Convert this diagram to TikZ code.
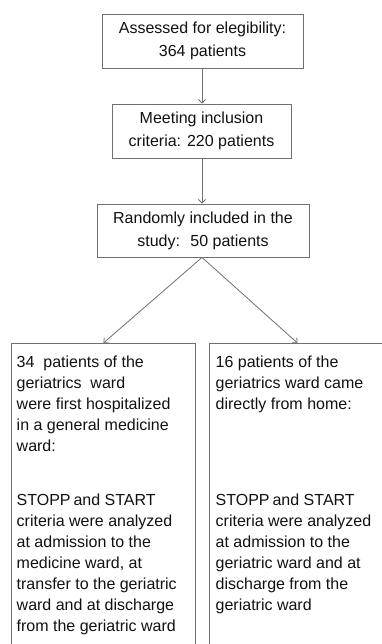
\documentclass[tikz,border=0pt]{standalone}
\usepackage{fontspec}
\setmainfont{Liberation Sans}
\usetikzlibrary{arrows.meta}
\definecolor{boxline}{HTML}{707070}
\definecolor{arrowline}{HTML}{707070}
\definecolor{txt}{HTML}{111111}
\tikzset{
  topbox/.style={draw=boxline, line width=0.9pt, rectangle, align=center, text=txt,
    font=\fontsize{16}{23}\selectfont, inner sep=0pt},
  bottombox/.style={draw=boxline, line width=0.9pt, rectangle, anchor=north west, inner sep=0pt},
  boxtext/.style={anchor=base west, inner sep=0pt, text=txt,
    font=\fontsize{16}{21}\selectfont},
  flow/.style={draw=arrowline, line width=0.8pt, -{Straight Barb[length=3.5pt,width=7pt]}}
}
\begin{document}
\begin{tikzpicture}[x=1pt,y=-1pt]
\clip (0,0) rectangle (382,644);
\node[topbox, minimum width=201pt, minimum height=54pt] (b1) at (202.5,41) {Assessed for elegibility:\\364 patients};
\node[topbox, minimum width=179pt, minimum height=54pt] (b2) at (201.5,131) {Meeting inclusion\\criteria: 220 patients};
\node[topbox, minimum width=212pt, minimum height=53pt] (b3) at (203,230.5) {Randomly included in the\\study:~ 50 patients};
\node[bottombox, minimum width=184pt, minimum height=310pt] (lbox) at (11,343) {};
\node[bottombox, minimum width=176pt, minimum height=310pt] (rbox) at (209,343) {};
\node[boxtext] (ltext) at (16.5,367) {\begin{minipage}[t]{176pt}\raggedright
34~ patients of the\\geriatrics~ ward\\were first hospitalized\\in a general medicine\\ward:\\[33pt]STOPP\hspace{-1.5pt} and START\\criteria were analyzed\\at admission to the\\medicine ward, at\\transfer to the geriatric\\ward and at discharge\\from the geriatric ward\end{minipage}};
\node[boxtext] (rtext) at (215.5,367) {\begin{minipage}[t]{166pt}\raggedright
16 patients of the\\geriatrics ward came\\directly from home:\\[75pt]STOPP\hspace{-1.5pt} and START\\criteria were analyzed\\at admission to the\\geriatric ward and at\\discharge from the\\geriatric ward\end{minipage}};
\draw[flow] (b1.south -| 202,0) -- (202,0 |- b2.north);
\draw[flow] (b2.south -| 202,0) -- (202,0 |- b3.north);
\draw[flow] (202,0 |- b3.south) -- (lbox.north);
\draw[flow] (202,0 |- b3.south) -- (rbox.north);
\end{tikzpicture}
\end{document}
